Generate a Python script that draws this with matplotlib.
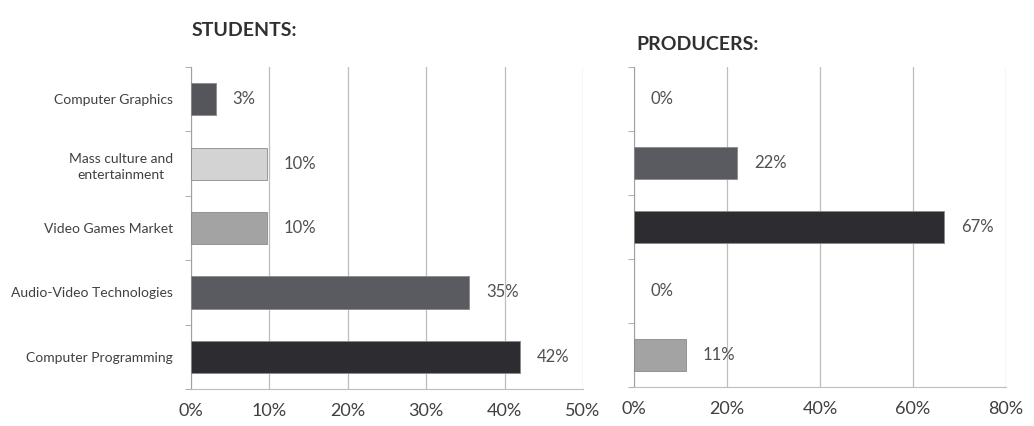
import matplotlib.pyplot as plt
import numpy as np

plt.rcParams['font.family'] = ['Lato', 'DejaVu Sans']

categories = ['Computer Graphics', 'Mass culture and\nentertainment', 'Video Games Market',
              'Audio-Video Technologies', 'Computer Programming']
students = [3.2, 9.7, 9.7, 35.5, 42.0]
students_labels = ['3%', '10%', '10%', '35%', '42%']
producers = [0.0, 22.2, 66.7, 0.0, 11.1]
producers_labels = ['0%', '22%', '67%', '0%', '11%']

students_colors = ['#55565b', '#d3d3d3', '#a3a3a3', '#5a5b60', '#2c2c31']
producers_colors = ['#55565b', '#5a5b60', '#2c2c31', '#5a5b60', '#a3a3a3']

text_col = '#404040'
grid_col = '#bdbdbd'

fig = plt.figure(figsize=(10.34, 4.26), dpi=100)
ax1 = fig.add_axes([191 / 1034, 37 / 426, 392 / 1034, 322 / 426])
ax2 = fig.add_axes([634 / 1034, 39 / 426, 372 / 1034, 320 / 426])

y = np.arange(len(categories))[::-1]


def draw_panel(ax, values, labels, colors, xmax, step):
    widths = [0.6 if v > 0 else 0 for v in values]
    ax.barh(y, values, height=0.5, color=colors, edgecolor='#8a8a8a', linewidth=widths, zorder=3)
    for yi, v, lab in zip(y, values, labels):
        ax.annotate(lab, (v, yi), xytext=(12, 0), textcoords='offset points',
                    va='center', ha='left', fontsize=12, color='#505050')
    ax.set_xlim(0, xmax)
    ax.set_ylim(-0.5, len(categories) - 0.5)
    ticks = np.arange(0, xmax + 0.1, step)
    ax.set_xticks(ticks)
    ax.set_xticklabels(['%d%%' % t for t in ticks], fontsize=13, color=text_col)
    ax.xaxis.grid(True, color=grid_col, linewidth=0.9, zorder=0)
    for s in ['top', 'right']:
        ax.spines[s].set_visible(False)
    ax.spines['left'].set_color('#a0a0a0')
    ax.spines['bottom'].set_color(grid_col)
    ax.tick_params(axis='x', length=0, pad=10)
    ax.set_yticks(np.arange(-0.5, len(categories), 1.0), minor=True)
    ax.tick_params(axis='y', which='minor', length=4, color='#a0a0a0')


draw_panel(ax1, students, students_labels, students_colors, 50, 10)
draw_panel(ax2, producers, producers_labels, producers_colors, 80, 20)

ax1.set_yticks(y)
ax1.set_yticklabels(categories, fontsize=10, color=text_col, multialignment='center',
                    linespacing=1.45)
ax1.tick_params(axis='y', which='major', length=0, pad=13)

ax2.set_yticks([])

fig.text(192 / 1034, 1 - 30 / 426, 'STUDENTS:', fontsize=14, fontweight='bold',
         color='#303030', va='center', ha='left')
fig.text(636 / 1034, 1 - 44 / 426, 'PRODUCERS:', fontsize=14, fontweight='bold',
         color='#303030', va='center', ha='left')

fig.savefig('out.png', dpi=100)
